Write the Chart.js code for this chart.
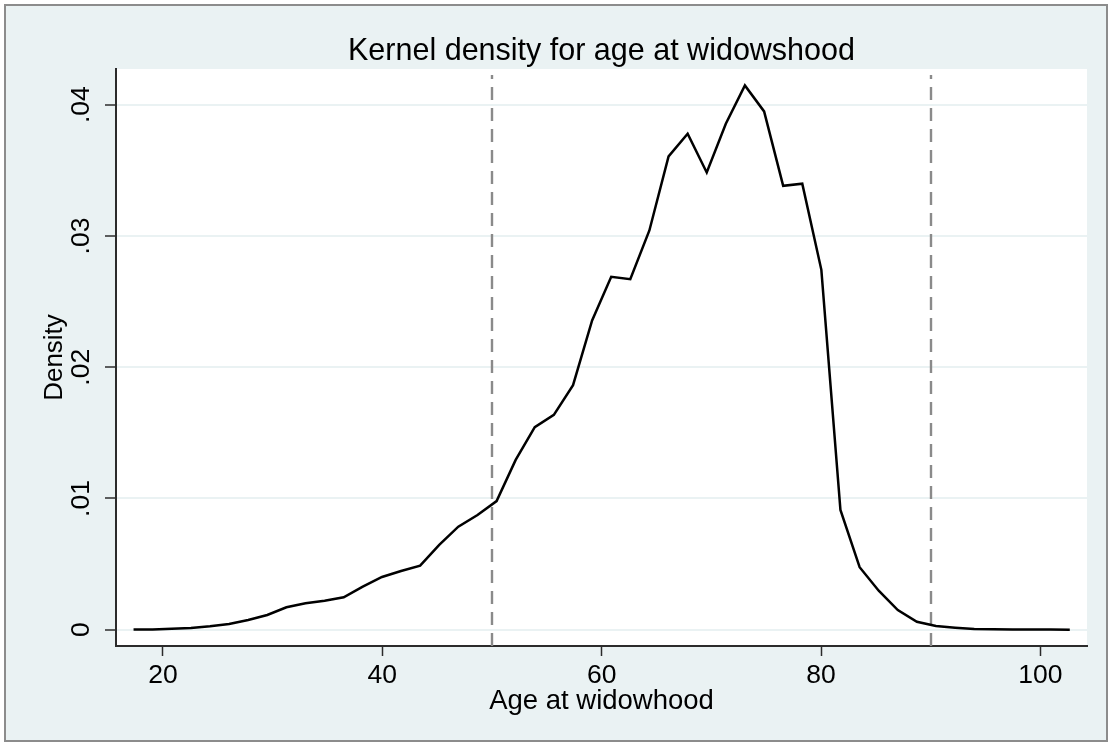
<!DOCTYPE html>
<html>
<head>
<meta charset="utf-8">
<title>Kernel density for age at widowshood</title>
<script src="https://cdn.jsdelivr.net/npm/chart.js@4.4.1/dist/chart.umd.min.js"></script>
<style>
  html, body { margin: 0; padding: 0; background: #ffffff; }
  #wrap { width: 1110px; height: 744px; position: relative; }
  canvas { display: block; }
</style>
</head>
<body>
<div id="wrap"><canvas id="kd" width="1110" height="744"></canvas></div>
<script>
// Evaluation grid (age at widowhood) and estimated kernel density at each point
const ages = [
  17.32, 19.06, 20.80, 22.55, 24.29, 26.03, 27.77, 29.51, 31.26, 33.00,
  34.74, 36.48, 38.22, 39.97, 41.71, 43.45, 45.19, 46.93, 48.68, 50.42,
  52.16, 53.90, 55.64, 57.39, 59.13, 60.87, 62.61, 64.35, 66.10, 67.84,
  69.58, 71.32, 73.06, 74.81, 76.55, 78.29, 80.03, 81.77, 83.52, 85.26,
  87.00, 88.74, 90.48, 92.23, 93.97, 95.71, 97.45, 99.19, 100.94, 102.68
];
const density = [
  0.00001, 0.00002, 0.00008, 0.00013, 0.00026, 0.00043, 0.00074, 0.00112, 0.00171, 0.00201,
  0.00221, 0.00247, 0.00328, 0.00402, 0.00447, 0.00488, 0.00646, 0.00785, 0.00874, 0.00980,
  0.01294, 0.01543, 0.01637, 0.01863, 0.02356, 0.02689, 0.02671, 0.03042, 0.03606, 0.03779,
  0.03484, 0.03855, 0.04147, 0.03949, 0.03382, 0.03398, 0.02742, 0.00912, 0.00476, 0.00297,
  0.00150, 0.00061, 0.00028, 0.00015, 0.00005, 0.00003, 0.00002, 0.00001, 0.00001, 0.00000
];

// Axis ticks and labels
const xTicks = [20, 40, 60, 80, 100];
const yTicks = [0, 0.01, 0.02, 0.03, 0.04];
const yTickLabels = ['0', '.01', '.02', '.03', '.04'];

// Vertical reference lines (ages)
const refLines = [50, 90];

const chartTitle = 'Kernel density for age at widowshood';
const xTitle = 'Age at widowhood';
const yTitle = 'Density';

const FONT = '"Liberation Sans", Arial, Helvetica, sans-serif';
const BG = '#eaf2f3';
const AXIS = '#2b2b2b';

Chart.defaults.font.family = FONT;
Chart.defaults.color = '#000000';

// Outer graph region, frame and white plot region
const framePlugin = {
  id: 'frame',
  beforeDraw(chart) {
    const { ctx, chartArea: a } = chart;
    ctx.save();
    ctx.fillStyle = '#ffffff';
    ctx.fillRect(0, 0, chart.width, chart.height);
    ctx.fillStyle = BG;
    ctx.fillRect(5, 5, chart.width - 8, chart.height - 8);
    ctx.strokeStyle = '#8c8c8c';
    ctx.lineWidth = 2;
    ctx.strokeRect(5, 5, chart.width - 8, chart.height - 8);
    ctx.fillStyle = '#ffffff';
    ctx.fillRect(a.left, a.top, a.right - a.left, a.bottom - a.top);
    ctx.restore();
  }
};

// Dashed vertical reference lines
const refLinePlugin = {
  id: 'refLines',
  beforeDatasetsDraw(chart) {
    const { ctx, chartArea: a, scales: { x } } = chart;
    ctx.save();
    ctx.strokeStyle = '#8a8a8a';
    ctx.lineWidth = 2.4;
    ctx.setLineDash([13, 8]);
    refLines.forEach(v => {
      const px = Math.round(x.getPixelForValue(v));
      ctx.beginPath();
      ctx.moveTo(px, a.bottom);
      ctx.lineTo(px, a.top + 6);
      ctx.stroke();
    });
    ctx.restore();
  }
};

// Title centred over the plot region
const plotTitlePlugin = {
  id: 'plotTitle',
  afterDraw(chart) {
    const { ctx, chartArea: a } = chart;
    ctx.save();
    ctx.font = '30.5px ' + FONT;
    ctx.fillStyle = '#000000';
    ctx.textAlign = 'center';
    ctx.textBaseline = 'alphabetic';
    ctx.fillText(chartTitle, (a.left + a.right) / 2, 60);
    ctx.restore();
  }
};

new Chart(document.getElementById('kd'), {
  type: 'line',
  data: {
    datasets: [{
      label: yTitle,
      data: ages.map((a, i) => ({ x: a, y: density[i] })),
      borderColor: '#000000',
      borderWidth: 2.5,
      pointRadius: 0,
      tension: 0,
      fill: false
    }]
  },
  options: {
    responsive: false,
    animation: false,
    devicePixelRatio: 1,
    layout: { padding: { left: 0, top: 69, right: 23, bottom: 0 } },
    plugins: {
      legend: { display: false },
      tooltip: { enabled: false },
      title: { display: false }
    },
    scales: {
      x: {
        type: 'linear',
        min: 15.72,
        max: 104.25,
        afterBuildTicks: s => { s.ticks = xTicks.map(v => ({ value: v })); },
        afterFit: s => { s.height = 98; },
        ticks: {
          autoSkip: false,
          maxRotation: 0,
          padding: 4,
          color: '#000000',
          font: { size: 26.5 },
          callback: v => String(v)
        },
        grid: {
          display: true,
          drawOnChartArea: false,
          tickLength: 10,
          tickColor: AXIS,
          tickWidth: 1.5
        },
        border: { display: true, color: AXIS, width: 2 },
        title: {
          display: true,
          text: xTitle,
          color: '#000000',
          font: { size: 27.5 },
          padding: { top: 0, bottom: 26 }
        }
      },
      y: {
        type: 'linear',
        min: -0.00124,
        max: 0.04272,
        afterBuildTicks: s => { s.ticks = yTicks.map(v => ({ value: v })); },
        afterFit: s => { s.width = 116; },
        ticks: {
          autoSkip: false,
          minRotation: 90,
          maxRotation: 90,
          crossAlign: 'center',
          padding: 5,
          color: '#000000',
          font: { size: 26.5 },
          callback: (v, i) => yTickLabels[i]
        },
        grid: {
          color: BG,
          lineWidth: 2,
          tickLength: 11,
          tickColor: AXIS,
          tickWidth: 1.5
        },
        border: { display: true, color: AXIS, width: 2 },
        title: {
          display: true,
          text: yTitle,
          color: '#000000',
          font: { size: 26 },
          padding: { top: 39, bottom: 0 }
        }
      }
    }
  },
  plugins: [framePlugin, refLinePlugin, plotTitlePlugin]
});
</script>
</body>
</html>
